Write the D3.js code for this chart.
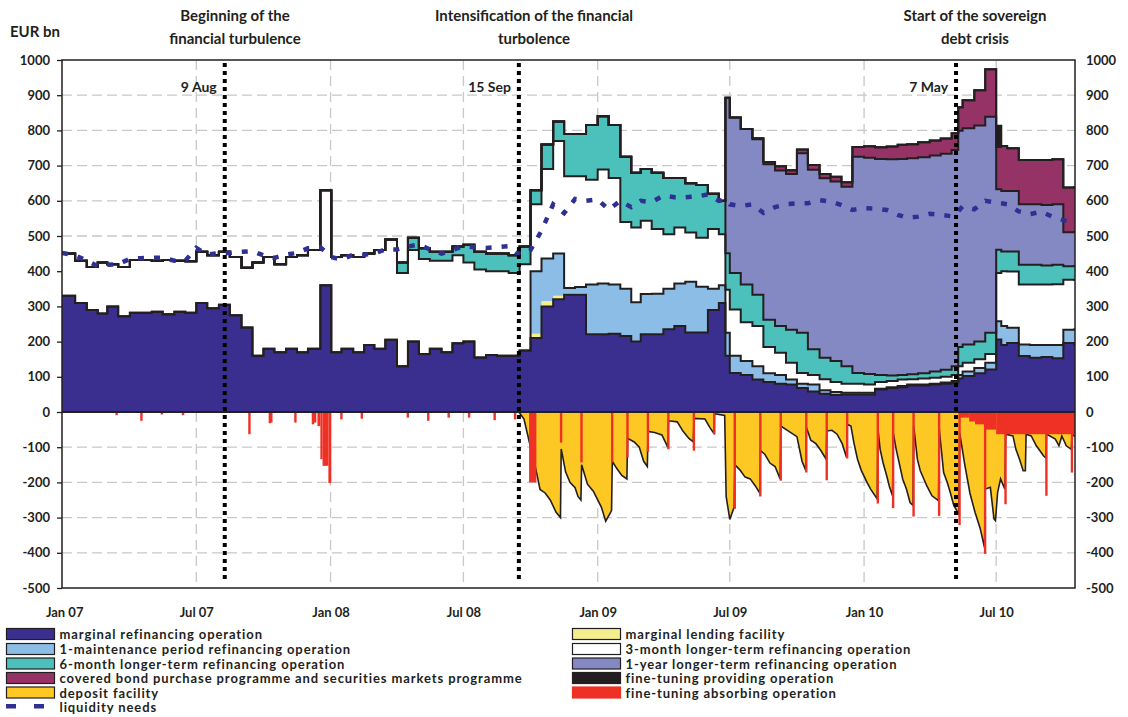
<!DOCTYPE html>
<html>
  <head>
    <meta charset="utf-8">
    <title>Eurosystem liquidity operations</title>
    <script src="https://d3js.org/d3.v7.min.js"></script>
    <style>
      body { margin: 0; background: #fff; }
      text { font-family: "Lato", "Open Sans", sans-serif; font-weight: bold; fill: #231f20; }
      .legend { font-size: 13px; letter-spacing: 0.9px; }
    </style>
  </head>
  <body>
    <svg id="chart" width="1128" height="717"></svg>
    <script>
      // observation dates: twice a month, plus a few event days
      const dates = [
        "2006-12-29","2007-01-16","2007-02-01","2007-02-16","2007-03-01","2007-03-16","2007-04-01","2007-04-16",
        "2007-05-01","2007-05-16","2007-06-01","2007-06-16","2007-07-01","2007-07-16","2007-08-01","2007-08-16",
        "2007-09-01","2007-09-16","2007-10-01","2007-10-16","2007-11-01","2007-11-16","2007-12-01","2007-12-18",
        "2008-01-02","2008-01-16","2008-02-01","2008-02-16","2008-03-01","2008-03-16","2008-04-01","2008-04-16",
        "2008-05-01","2008-05-16","2008-06-01","2008-06-16","2008-07-01","2008-07-16","2008-08-01","2008-08-16",
        "2008-09-01","2008-09-16","2008-10-01","2008-10-16","2008-11-01","2008-11-16","2008-12-01","2008-12-16",
        "2009-01-01","2009-01-16","2009-02-01","2009-02-16","2009-03-01","2009-03-16","2009-04-01","2009-04-16",
        "2009-05-01","2009-05-16","2009-06-01","2009-06-16","2009-06-25","2009-07-01","2009-07-16","2009-08-01",
        "2009-08-16","2009-09-01","2009-09-16","2009-10-01","2009-10-16","2009-11-01","2009-11-16","2009-12-01",
        "2009-12-16",
        "2010-01-01","2010-01-16","2010-02-01","2010-02-16","2010-03-01","2010-03-16","2010-04-01","2010-04-16",
        "2010-05-01","2010-05-10","2010-05-16","2010-06-01","2010-06-16","2010-07-01","2010-07-08","2010-07-16",
        "2010-08-01","2010-08-16","2010-09-01","2010-09-16","2010-10-01","2010-10-16","2010-10-17"
      ];

      // EUR bn, one value per date (one line per year)
      const mro = [
        330,310,290,280,300,272,282,282,285,278,285,282,310,295,305,275,240,160,180,170,180,170,180,360,
        170,180,170,190,180,205,130,200,165,180,170,195,200,155,162,160,160,175,210,300,320,333,333,221,
        221,222,216,200,221,221,235,244,226,226,290,310,160,111,105,92,85,80,78,68,58,52,48,50,50,
        50,64,68,70,75,75,78,80,83,95,102,110,121,206,190,196,159,154,156,153,196,190,190
      ];
      const marginalLending = [
        0,0,0,0,0,0,0,0,0,0,0,0,0,0,0,0,0,0,0,0,0,0,0,0,
        0,0,0,0,0,0,0,0,0,0,0,0,0,0,0,0,0,0,12,15,10,3,3,1,
        1,1,1,1,1,1,1,1,1,1,0,0,0,0,0,0,0,0,0,0,0,0,0,0,0,
        0,0,0,0,0,0,0,0,0,0,0,0,0,0,0,0,0,0,0,0,0,0,0
      ];
      const oneMaintenance = [
        0,0,0,0,0,0,0,0,0,0,0,0,0,0,0,0,0,0,0,0,0,0,0,0,
        0,0,0,0,0,0,0,0,0,0,0,0,0,0,0,0,0,0,178,121,120,16,19,140,
        143,139,133,111,113,114,114,120,143,129,60,50,65,49,40,38,25,25,14,12,20,10,9,5,5,
        5,2,2,4,3,3,2,4,5,10,13,15,19,52,54,43,33,36,34,37,38,45,45
      ];
      const threeMonth = [
        120,120,122,145,120,140,150,150,145,154,145,146,145,150,150,165,170,265,260,250,260,275,280,270,
        270,265,270,260,280,285,265,260,270,250,260,250,225,250,238,240,235,245,190,254,320,318,315,298,
        324,303,190,212,208,184,155,159,140,139,170,145,122,131,110,114,75,63,48,31,27,31,28,25,25,
        23,19,18,18,15,17,17,16,17,25,25,25,25,137,156,160,170,172,172,173,142,140,140
      ];
      const sixMonth = [
        0,0,0,0,0,0,0,0,0,0,0,0,0,0,0,0,0,0,0,0,0,0,0,0,
        0,0,0,0,0,0,30,35,30,25,25,25,50,50,50,50,50,50,40,70,55,120,120,155,
        151,150,185,156,147,160,160,141,140,150,100,95,104,104,107,89,77,76,94,114,73,61,60,50,31,
        30,20,16,13,14,15,18,20,25,55,52,50,60,66,56,57,56,56,54,55,38,40,40
      ];
      const oneYear = [
        0,0,0,0,0,0,0,0,0,0,0,0,0,0,0,0,0,0,0,0,0,0,0,0,
        0,0,0,0,0,0,0,0,0,0,0,0,0,0,0,0,0,0,0,0,0,0,0,0,
        0,0,0,0,0,0,0,0,0,0,0,0,442,442,442,442,442,442,442,510,510,510,510,510,614,
        614,614,614,614,614,614,614,614,614,614,614,614,614,172,172,172,172,172,172,172,97,97,97
      ];
      const bondsAndSmp = [
        0,0,0,0,0,0,0,0,0,0,0,0,0,0,0,0,0,0,0,0,0,0,0,0,
        0,0,0,0,0,0,0,0,0,0,0,0,0,0,0,0,0,0,0,0,0,0,0,0,
        0,0,0,0,0,0,0,0,0,0,0,0,0,0,0,3,6,12,11,11,14,12,13,13,28,
        33,33,36,40,40,42,42,43,48,67,80,100,135,120,128,121,126,126,128,128,127,127,127
      ];
      const fineTuningProviding = [
        0,0,0,0,0,0,0,0,0,0,0,0,0,0,0,0,0,0,0,0,0,0,0,0,
        0,0,0,0,0,0,0,0,0,0,0,0,0,0,0,0,0,0,0,0,0,0,0,0,
        0,0,0,0,0,0,0,0,0,0,0,0,0,0,0,0,0,0,0,0,0,0,0,0,0,
        0,0,0,0,0,0,0,0,0,0,0,0,0,60,0,0,0,0,0,0,0,0,0
      ];
      const liquidityNeeds = [
        452,445,430,414,418,420,435,437,438,438,430,430,466,447,452,452,455,457,445,438,447,452,465,468,
        440,433,447,447,450,462,462,470,476,462,450,460,471,468,466,468,471,445,460,515,590,565,605,600,
        604,575,600,582,600,596,615,610,610,612,618,600,604,590,585,590,566,582,590,593,593,602,598,588,574,
        579,578,574,560,552,555,563,560,556,570,584,576,600,595,593,590,570,562,569,555,545,536,535
      ];

      // deposit facility (negative, EUR bn), daily readings around each maintenance period
      const depositFacility = [
        ["2008-09-15",0],["2008-09-22",-20],["2008-10-01",-100],["2008-10-08",-160],["2008-10-14",-220],
        ["2008-10-21",-230],["2008-10-28",-250],["2008-11-05",-285],["2008-11-11",-300],
        ["2008-11-12",-105],["2008-11-18",-170],["2008-11-24",-200],["2008-12-01",-215],["2008-12-05",-240],["2008-12-09",-250],
        ["2008-12-10",-150],["2008-12-18",-205],["2008-12-26",-225],["2009-01-06",-270],["2009-01-12",-310],["2009-01-20",-280],
        ["2009-01-21",-140],["2009-01-27",-160],["2009-02-03",-180],["2009-02-10",-190],
        ["2009-02-11",-75],["2009-02-20",-85],["2009-02-27",-100],["2009-03-05",-140],["2009-03-10",-155],
        ["2009-03-11",-55],["2009-03-20",-58],["2009-03-30",-65],["2009-04-07",-100],
        ["2009-04-08",-25],["2009-04-20",-28],["2009-04-28",-55],["2009-05-06",-75],["2009-05-12",-85],
        ["2009-05-13",-18],["2009-05-28",-20],["2009-06-04",-45],["2009-06-09",-60],
        ["2009-06-10",-5],["2009-06-24",-10],["2009-06-26",-240],["2009-07-01",-305],["2009-07-07",-270],
        ["2009-07-08",-150],["2009-07-15",-165],["2009-07-22",-185],["2009-07-29",-190],["2009-08-05",-210],["2009-08-11",-230],
        ["2009-08-12",-110],["2009-08-18",-120],["2009-08-25",-145],["2009-09-01",-155],["2009-09-08",-190],
        ["2009-09-09",-40],["2009-09-20",-55],["2009-10-01",-70],["2009-10-08",-140],["2009-10-13",-165],
        ["2009-10-14",-44],["2009-10-20",-80],["2009-10-27",-90],["2009-11-03",-110],["2009-11-10",-134],
        ["2009-11-11",-54],["2009-11-18",-52],["2009-11-25",-63],["2009-12-02",-90],["2009-12-08",-129],
        ["2009-12-09",-35],["2009-12-14",-40],["2009-12-18",-87],["2009-12-23",-134],["2009-12-28",-165],
        ["2010-01-05",-200],["2010-01-10",-219],["2010-01-19",-247],
        ["2010-01-20",-49],["2010-01-23",-106],["2010-01-27",-144],["2010-02-01",-181],["2010-02-05",-214],["2010-02-09",-238],
        ["2010-02-10",-59],["2010-02-14",-106],["2010-02-19",-153],["2010-02-23",-191],["2010-02-28",-219],["2010-03-05",-257],["2010-03-09",-265],
        ["2010-03-10",-40],["2010-03-15",-134],["2010-03-19",-167],["2010-03-24",-191],["2010-03-28",-210],["2010-04-04",-238],["2010-04-13",-252],
        ["2010-04-14",-49],["2010-04-20",-172],["2010-04-25",-200],["2010-04-29",-228],["2010-05-04",-266],["2010-05-11",-290],
        ["2010-05-12",-60],["2010-05-19",-150],["2010-05-26",-230],["2010-06-02",-285],["2010-06-09",-330],["2010-06-15",-385],
        ["2010-06-16",-219],["2010-06-23",-214],["2010-06-28",-304],["2010-06-30",-309],["2010-07-03",-228],["2010-07-07",-190],["2010-07-13",-219],
        ["2010-07-14",-63],["2010-07-24",-68],["2010-07-28",-106],["2010-08-02",-134],["2010-08-07",-167],["2010-08-10",-167],
        ["2010-08-11",-63],["2010-08-18",-68],["2010-08-25",-96],["2010-08-30",-110],["2010-09-04",-125],["2010-09-07",-130],
        ["2010-09-08",-63],["2010-09-20",-77],["2010-09-25",-96],["2010-09-29",-68],["2010-10-05",-96],["2010-10-12",-106],
        ["2010-10-13",-63],["2010-10-17",-70]
      ];
      // fine-tuning absorbing operations: one-day ops [date, value], longer ones [from, to, value]
      const absorbSpikes = [
        ["2007-03-13",-9],["2007-04-16",-25],["2007-05-14",-7],["2007-06-12",-9],["2007-09-11",-63],
        ["2007-10-09",-32],["2007-10-11",-30],["2007-11-13",-30],["2007-12-07",-35],["2007-12-10",-30],
        ["2008-01-15",-21],["2008-02-12",-19],["2008-04-15",-16],["2008-05-13",-25],["2008-06-10",-16],
        ["2008-07-08",-16],["2008-08-12",-23],["2008-09-09",-21],["2008-11-11",-87],["2008-12-09",-143],
        ["2009-01-20",-143],["2009-02-10",-129],["2009-03-10",-113],["2009-04-07",-106],["2009-05-12",-110],
        ["2009-06-09",-63],["2009-07-07",-275],["2009-08-11",-240],["2009-09-08",-195],["2009-10-13",-172],
        ["2009-11-10",-194],["2009-12-08",-132],["2010-01-19",-260],["2010-02-09",-273],["2010-03-09",-297],
        ["2010-04-13",-295],["2010-05-11",-321],["2010-06-15",-403],["2010-07-13",-262],["2010-09-07",-238],
        ["2010-10-12",-172]
      ];
      const absorbBlocks = [
        ["2007-12-14","2007-12-18",-40],["2007-12-18","2007-12-21",-134],["2007-12-21","2007-12-29",-153],
        ["2007-12-29","2008-01-02",-202],["2008-09-29","2008-10-09",-200],
        ["2010-05-11","2010-05-25",-16],["2010-05-25","2010-06-02",-27],["2010-06-02","2010-06-16",-35],
        ["2010-06-16","2010-07-01",-50],["2010-07-01","2010-10-17",-63]
      ];

      const yTicks = [-500,-400,-300,-200,-100,0,100,200,300,400,500,600,700,800,900,1000];
      const xTickDates = ["2007-01-01","2007-07-01","2008-01-01","2008-07-01","2009-01-01","2009-07-01","2010-01-01","2010-07-01"];
      const xTickLabels = ["Jan 07","Jul 07","Jan 08","Jul 08","Jan 09","Jul 09","Jan 10","Jul 10"];
      const events = [["2007-08-09","9 Aug"],["2008-09-15","15 Sep"],["2010-05-07","7 May"]];

      const keys = ["mro","mlf","oneMp","threeM","sixM","oneY","bonds","ftp"];
      const series = {
        mro: mro, mlf: marginalLending, oneMp: oneMaintenance, threeM: threeMonth,
        sixM: sixMonth, oneY: oneYear, bonds: bondsAndSmp, ftp: fineTuningProviding
      };
      const colours = {
        mro: "#3a2f8f", mlf: "#f4ee8e", oneMp: "#8bbde6", threeM: "#ffffff",
        sixM: "#4cc0bb", oneY: "#8589c3", bonds: "#953366", ftp: "#231f20",
        deposit: "#fdc823", absorb: "#ee3124", needs: "#2e3192"
      };

      const parse = d3.timeParse("%Y-%m-%d");
      const plot = {left: 62, right: 1075, top: 60, bottom: 588};
      const x = d3.scaleTime()
        .domain([parse(dates[0]), parse(dates[dates.length - 1])])
        .range([plot.left, plot.right]);
      const y = d3.scaleLinear().domain([-500, 1000]).range([plot.bottom, plot.top]);

      const svg = d3.select("#chart");

      // gridlines
      const grid = svg.append("g");
      grid.selectAll(".hgrid")
          .data(yTicks.filter(function(v) { return v > -500 && v < 1000; }))
        .enter().append("line")
          .attr("x1", plot.left).attr("x2", plot.right)
          .attr("y1", function(d) { return y(d); }).attr("y2", function(d) { return y(d); })
          .attr("stroke", "#c8c8c8").attr("stroke-width", 1.3).attr("stroke-dasharray", "10,5");
      grid.selectAll(".vgrid")
          .data(xTickDates.slice(1))
        .enter().append("line")
          .attr("x1", function(d) { return x(parse(d)); }).attr("x2", function(d) { return x(parse(d)); })
          .attr("y1", plot.top).attr("y2", plot.bottom)
          .attr("stroke", "#c8c8c8").attr("stroke-width", 1.3).attr("stroke-dasharray", "10,6");

      svg.append("defs").append("clipPath").attr("id", "clip")
        .append("rect")
          .attr("x", plot.left).attr("y", plot.top)
          .attr("width", plot.right - plot.left).attr("height", plot.bottom - plot.top);
      const g = svg.append("g").attr("clip-path", "url(#clip)");

      // stacked refinancing operations
      const rows = dates.map(function(d, i) {
        const row = {date: parse(d)};
        keys.forEach(function(k) { row[k] = series[k][i]; });
        return row;
      });
      const stacked = d3.stack().keys(keys)(rows);
      const area = d3.area()
        .curve(d3.curveStepAfter)
        .x(function(d) { return x(d.data.date); })
        .y0(function(d) { return y(d[0]); })
        .y1(function(d) { return y(d[1]); });
      const edge = d3.line()
        .curve(d3.curveStepAfter)
        .x(function(d) { return x(d.data.date); })
        .y(function(d) { return y(d[1]); });
      g.selectAll(".layer")
          .data(stacked)
        .enter().append("path")
          .attr("d", area)
          .attr("fill", function(d) { return colours[d.key]; });

      // deposit facility
      const deposit = depositFacility.map(function(d) { return [parse(d[0]), d[1]]; });
      g.append("path")
        .datum(deposit)
        .attr("fill", colours.deposit)
        .attr("d", d3.area()
          .x(function(d) { return x(d[0]); })
          .y0(y(0))
          .y1(function(d) { return y(d[1]); }));
      g.append("path")
        .datum(deposit)
        .attr("fill", "none")
        .attr("stroke", "#231f20")
        .attr("stroke-width", 1.6)
        .attr("d", d3.line()
          .x(function(d) { return x(d[0]); })
          .y(function(d) { return y(d[1]); }));

      g.selectAll(".edge")
          .data(stacked.filter(function(s) { return s.key !== "mlf"; }))
        .enter().append("path")
          .attr("d", edge)
          .attr("fill", "none")
          .attr("stroke", "#231f20")
          .attr("stroke-width", 2);

      // fine-tuning absorbing operations
      g.selectAll(".block")
          .data(absorbBlocks)
        .enter().append("rect")
          .attr("x", function(d) { return x(parse(d[0])); })
          .attr("width", function(d) { return x(parse(d[1])) - x(parse(d[0])); })
          .attr("y", y(0))
          .attr("height", function(d) { return y(d[2]) - y(0); })
          .attr("fill", colours.absorb);
      g.selectAll(".spike")
          .data(absorbSpikes)
        .enter().append("rect")
          .attr("x", function(d) { return x(parse(d[0])) - 0.6; })
          .attr("width", 2.4)
          .attr("y", y(0))
          .attr("height", function(d) { return y(d[1]) - y(0); })
          .attr("fill", colours.absorb);

      g.append("line")
        .attr("x1", plot.left).attr("x2", plot.right)
        .attr("y1", y(0)).attr("y2", y(0))
        .attr("stroke", "#231f20").attr("stroke-width", 2);

      // liquidity needs
      g.append("path")
        .datum(rows)
        .attr("fill", "none")
        .attr("stroke", colours.needs)
        .attr("stroke-width", 4.5)
        .attr("stroke-dasharray", "6,10")
        .attr("d", d3.line()
          .x(function(d) { return x(d.date); })
          .y(function(d, i) { return y(liquidityNeeds[i]); }));

      // event markers
      events.forEach(function(e) {
        const ex = x(parse(e[0]));
        svg.append("line")
          .attr("x1", ex).attr("x2", ex)
          .attr("y1", 63).attr("y2", 580)
          .attr("stroke", "#000").attr("stroke-width", 4)
          .attr("stroke-dasharray", "4,4");
        svg.append("text")
          .attr("x", ex - 8).attr("y", 92)
          .attr("text-anchor", "end")
          .style("font-size", "14px")
          .text(e[1]);
      });

      // frame
      svg.append("rect")
        .attr("x", plot.left).attr("y", plot.top)
        .attr("width", plot.right - plot.left).attr("height", plot.bottom - plot.top)
        .attr("fill", "none").attr("stroke", "#231f20").attr("stroke-width", 1.5);

      // axes
      const leftAxis = svg.append("g")
        .attr("transform", "translate(" + plot.left + ",0)")
        .call(d3.axisLeft(y).tickValues(yTicks).tickSize(5).tickPadding(7)
          .tickFormat(function(d) { return String(d); }));
      const rightAxis = svg.append("g")
        .attr("transform", "translate(" + plot.right + ",0)")
        .call(d3.axisRight(y).tickValues(yTicks).tickSize(0).tickPadding(11)
          .tickFormat(function(d) { return String(d); }));
      const bottomAxis = svg.append("g")
        .attr("transform", "translate(0," + plot.bottom + ")")
        .call(d3.axisBottom(x).tickValues(xTickDates.map(parse)).tickSize(0).tickPadding(20)
          .tickFormat(function(d, i) { return xTickLabels[i]; }));
      [leftAxis, rightAxis, bottomAxis].forEach(function(a) {
        a.attr("font-family", null).attr("font-size", null);
        a.select(".domain").remove();
        a.selectAll("text").style("font-size", "13px");
        a.selectAll("line").attr("stroke", "#231f20").attr("stroke-width", 1.3);
      });

      // headings
      svg.append("text").attr("x", 10).attr("y", 37).style("font-size", "15px").text("EUR bn");
      const headings = [
        [235, "Beginning of the", "financial turbulence"],
        [534, "Intensification of the financial", "turbolence"],
        [975, "Start of the sovereign", "debt crisis"]
      ];
      headings.forEach(function(h) {
        svg.append("text").attr("x", h[0]).attr("y", 21).attr("text-anchor", "middle")
          .style("font-size", "15px").text(h[1]);
        svg.append("text").attr("x", h[0]).attr("y", 44).attr("text-anchor", "middle")
          .style("font-size", "15px").text(h[2]);
      });

      // legend
      const legendLeft = [
        ["mro", "marginal refinancing operation"],
        ["oneMp", "1-maintenance period refinancing operation"],
        ["sixM", "6-month longer-term refinancing operation"],
        ["bonds", "covered bond purchase programme and securities markets programme"],
        ["deposit", "deposit facility"]
      ];
      const legendRight = [
        ["mlf", "marginal lending facility"],
        ["threeM", "3-month longer-term refinancing operation"],
        ["oneY", "1-year longer-term refinancing operation"],
        ["ftp", "fine-tuning providing operation"],
        ["absorb", "fine-tuning absorbing operation"]
      ];
      const rowY = [634, 649, 663.5, 678, 692.5];
      function legendColumn(items, x0) {
        items.forEach(function(item, i) {
          svg.append("rect")
            .attr("x", x0).attr("y", rowY[i] - 5.5)
            .attr("width", 48).attr("height", 11)
            .attr("fill", colours[item[0]])
            .attr("stroke", item[0] === "absorb" ? colours.absorb : "#231f20")
            .attr("stroke-width", 1.2);
          svg.append("text")
            .attr("class", "legend")
            .attr("x", x0 + 53).attr("y", rowY[i] + 5)
            .text(item[1]);
        });
      }
      legendColumn(legendLeft, 6.5);
      legendColumn(legendRight, 572.5);
      [6, 34].forEach(function(dx) {
        svg.append("rect").attr("x", dx).attr("y", 704).attr("width", 10).attr("height", 4.5)
          .attr("fill", colours.needs);
      });
      svg.append("text").attr("class", "legend").attr("x", 59.5).attr("y", 712).text("liquidity needs");
    </script>
  </body>
</html>
